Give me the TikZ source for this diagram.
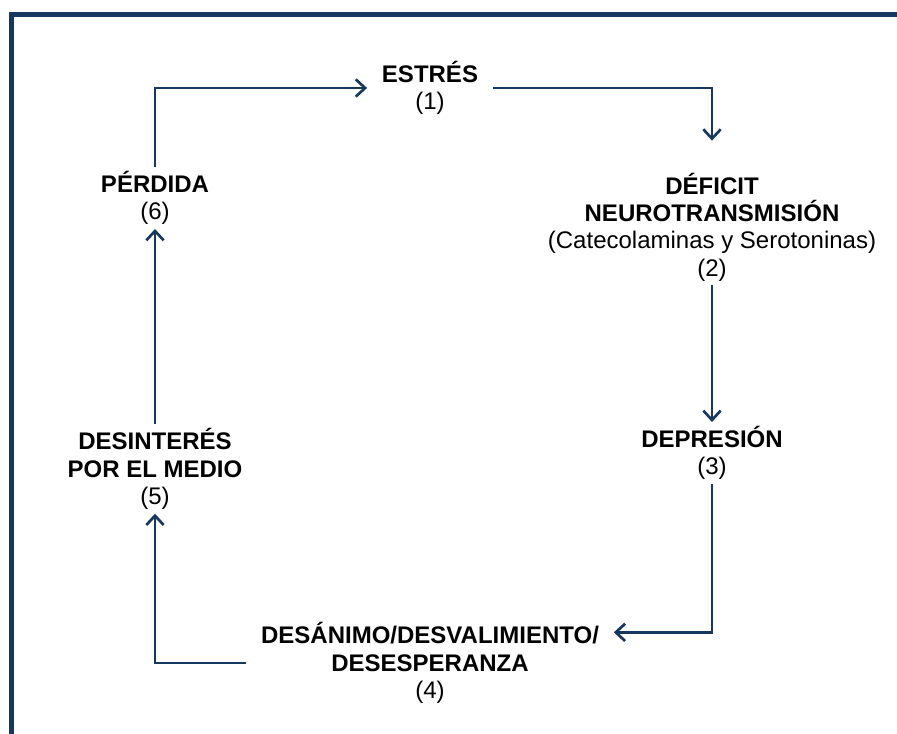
\documentclass[tikz,border=0pt]{standalone}
\usepackage{fontspec}
\setmainfont{Liberation Sans}
\usetikzlibrary{arrows.meta,calc,positioning}
\definecolor{darkblue}{HTML}{17375E}

\begin{document}
\begin{tikzpicture}[x=0.75pt,y=-0.75pt,
    box/.style={align=center, inner xsep=11pt, inner ysep=3pt, font=\fontsize{18}{20.5}\selectfont},
    arr/.style={-{Straight Barb[length=7pt,width=13pt]}, draw=darkblue, line width=2pt}]
  \useasboundingbox (0,0) rectangle (897,734);
  % frame
  \draw[darkblue, line width=3.75pt] (11.5,734) -- (11.5,14.5) -- (897,14.5);
  % stages
  \node[box] (estres) at (430,88) {\textbf{ESTRÉS}\\(1)};
  \node[box] (deficit) at (712,227) {\textbf{DÉFICIT}\\\textbf{NEUROTRANSMISIÓN}\\(Catecolaminas y Serotoninas)\\(2)};
  \node[box] (depresion) at (712,453) {\textbf{DEPRESIÓN}\\(3)};
  \node[box] (desanimo) at (430,663) {\textbf{DESÁNIMO/DESVALIMIENTO/}\\\textbf{DESESPERANZA}\\(4)};
  \node[box] (desinteres) at (155,469) {\textbf{DESINTERÉS}\\\textbf{POR EL MEDIO}\\(5)};
  \node[box] (perdida) at (155,198) {\textbf{PÉRDIDA}\\(6)};
  % cycle
  \draw[arr] (perdida.north) |- (estres.west);
  \draw[arr, shorten >=21pt] (estres.east) -| (deficit.north);
  \draw[arr] (deficit.south) -- (depresion.north);
  \draw[arr] (depresion.south) |- ([yshift=23pt]desanimo.east);
  \draw[arr] (desanimo.west) -| (desinteres.south);
  \draw[arr] (desinteres.north) -- (perdida.south);
\end{tikzpicture}
\end{document}
